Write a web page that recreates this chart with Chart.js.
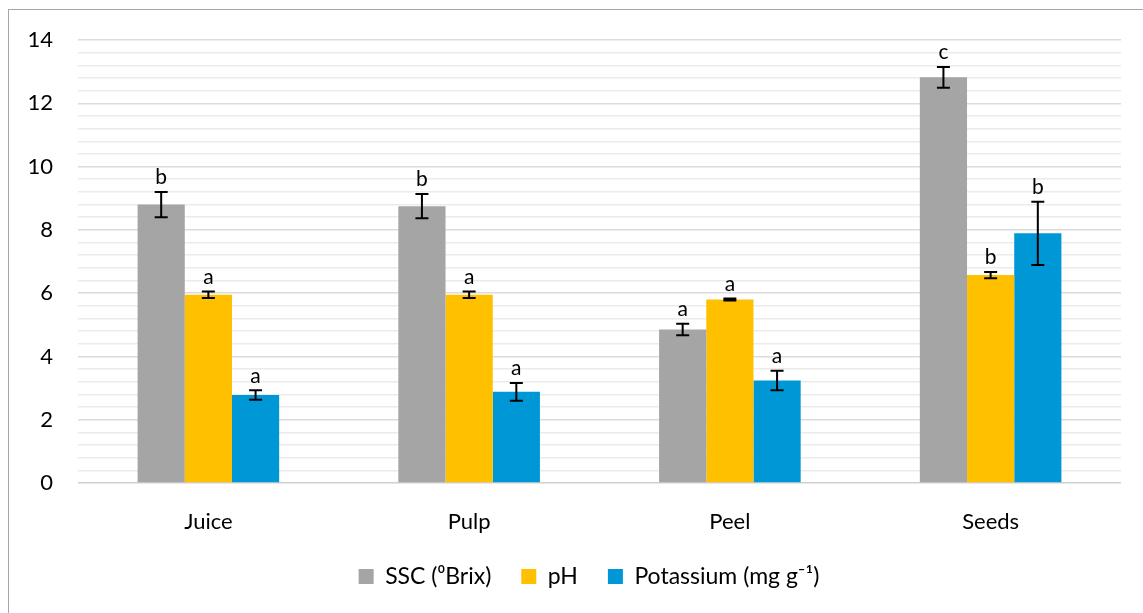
<!DOCTYPE html>
<html><head><meta charset="utf-8">
<script src="https://cdn.jsdelivr.net/npm/chart.js@4/dist/chart.umd.min.js"></script>
<style>
html,body{margin:0;padding:0;background:#fff;}
#wrap{position:absolute;left:0;top:0;width:1143px;height:613px;}
#frame{position:absolute;left:8px;top:9px;width:1200px;height:700px;border-left:1.5px solid #a6a6a6;border-top:1.5px solid #a6a6a6;}
canvas{position:absolute;left:0;top:0;}
</style></head><body>
<div id="wrap"><div id="frame"></div><canvas id="c" width="1143" height="613"></canvas></div>
<script>
const categories = ['Juice','Pulp','Peel','Seeds'];
const seriesNames = ['SSC (\u2070Brix)','pH','Potassium (mg g\u207B\u00B9)'];
const ssc = [8.8, 8.75, 4.85, 12.82];
const ph = [5.95, 5.95, 5.8, 6.57];
const potassium = [2.78, 2.88, 3.24, 7.89];
const sscErr = [0.4, 0.38, 0.18, 0.33];
const phErr = [0.1, 0.1, 0.03, 0.1];
const potassiumErr = [0.15, 0.28, 0.31, 1.0];
const sscLetters = ['b','b','a','c'];
const phLetters = ['a','a','a','b'];
const potassiumLetters = ['a','a','a','b'];
const yTicks = [0,2,4,6,8,10,12,14];

const colors = ['#a5a5a5','#ffc000','#0097d6'];
const errs = [sscErr, phErr, potassiumErr];
const letters = [sscLetters, phLetters, potassiumLetters];
const FONT = 'Lato, "Open Sans", sans-serif';

const errPlugin = {
  id:'errbars',
  afterLayout(chart){
    if (chart.legend) { chart.legend.left = 57; }
  },
  afterDatasetsDraw(chart){
    const ctx = chart.ctx, y = chart.scales.y;
    chart.data.datasets.forEach((ds,di)=>{
      const meta = chart.getDatasetMeta(di);
      meta.data.forEach((bar,i)=>{
        const v = ds.data[i], e = errs[di][i];
        const x = bar.x;
        const yt = y.getPixelForValue(v+e), yb = y.getPixelForValue(v-e);
        ctx.save();
        ctx.strokeStyle = '#000'; ctx.lineWidth = 2;
        ctx.beginPath();
        ctx.moveTo(x,yt); ctx.lineTo(x,yb);
        ctx.moveTo(x-6.5,yt); ctx.lineTo(x+6.5,yt);
        ctx.moveTo(x-6.5,yb); ctx.lineTo(x+6.5,yb);
        ctx.stroke();
        ctx.fillStyle = '#000';
        ctx.font = '21px ' + FONT;
        ctx.textAlign = 'center'; ctx.textBaseline = 'bottom';
        ctx.fillText(letters[di][i], x, yt-4);
        ctx.restore();
      });
    });
  }
};

new Chart(document.getElementById('c'), {
  type:'bar',
  data:{
    labels: categories,
    datasets:[
      {label:seriesNames[0], data:ssc, backgroundColor:colors[0]},
      {label:seriesNames[1], data:ph, backgroundColor:colors[1]},
      {label:seriesNames[2], data:potassium, backgroundColor:colors[2]}
    ]
  },
  options:{
    responsive:false, animation:false,
    devicePixelRatio:1,
    layout:{padding:{left:0,right:22,top:40,bottom:15}},
    datasets:{bar:{categoryPercentage:0.543, barPercentage:1.0}},
    plugins:{
      legend:{position:'bottom', labels:{font:{size:23,family:FONT}, color:'#000', boxWidth:15, boxHeight:15, padding:30}},
      tooltip:{enabled:false}
    },
    scales:{
      x:{
        grid:{display:false, drawTicks:false},
        border:{display:false},
        ticks:{font:{size:22,family:FONT}, color:'#000', padding:26},
        afterFit(s){ s.height = 52; }
      },
      y:{
        min:0, max:14,
        afterBuildTicks(s){
          const t=[]; for(let k=0;k<=35;k++){ t.push({value: Math.round(k*0.4*10)/10}); } s.ticks=t;
        },
        ticks:{
          autoSkip:false, font:{size:22,family:FONT}, color:'#000', padding:25,
          callback(v){ return yTicks.includes(v) ? String(v) : ''; }
        },
        grid:{drawTicks:false, lineWidth:1.5,
          color(c){ const v=c.tick.value; if(v===0) return '#d0d0d0'; return yTicks.includes(v)?'#dcdcdc':'#ebebeb'; }},
        border:{display:false},
        afterFit(s){ s.width = 78; }
      }
    }
  },
  plugins:[errPlugin]
});
</script></body></html>
